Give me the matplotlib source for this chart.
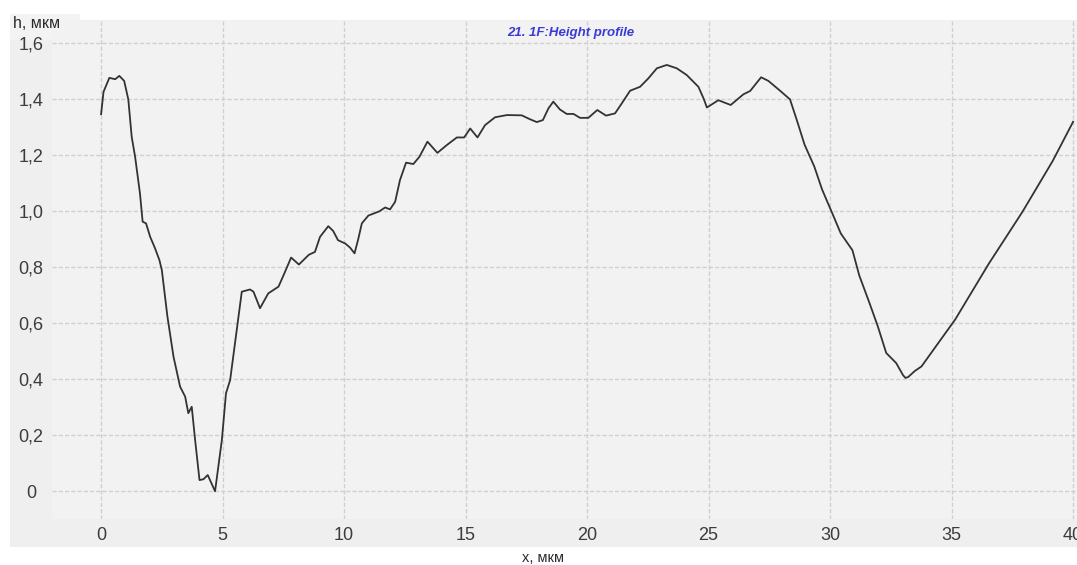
import matplotlib.pyplot as plt
from matplotlib.patches import Rectangle

# Height profile, x in um, h in um
x_um = [0.0, 0.1, 0.34, 0.58, 0.75, 0.95, 1.12, 1.26, 1.40, 1.60, 1.71, 1.85,
        2.02, 2.22, 2.40, 2.50, 2.73, 2.98, 3.25, 3.46, 3.59, 3.73, 3.87, 4.05,
        4.21, 4.39, 4.69, 4.97, 5.14, 5.31, 5.79, 6.13, 6.27, 6.54, 6.88, 7.30,
        7.50, 7.82, 8.14, 8.55, 8.80, 9.01, 9.35, 9.55, 9.75, 10.05, 10.25, 10.43,
        10.58, 10.73, 11.00, 11.45, 11.69, 11.89, 12.10, 12.30, 12.55, 12.85, 13.10,
        13.43, 13.84, 14.23, 14.64, 14.94, 15.19, 15.49, 15.80, 16.21, 16.70, 17.31,
        17.65, 17.93, 18.18, 18.41, 18.61, 18.88, 19.16, 19.44, 19.71, 20.05, 20.42,
        20.78, 21.15, 21.43, 21.77, 22.18, 22.52, 22.87, 23.28, 23.69, 24.10, 24.58,
        24.79, 24.93, 25.40, 25.91, 26.43, 26.71, 27.16, 27.46, 27.94, 28.35, 28.63,
        28.95, 29.35, 29.67, 30.09, 30.44, 30.92, 31.20, 31.61, 31.96, 32.31, 32.72,
        33.00, 33.10, 33.21, 33.49, 33.76, 35.15, 36.53, 37.92, 39.16, 40.0]
h_um = [1.347, 1.427, 1.477, 1.472, 1.484, 1.466, 1.400, 1.266, 1.195, 1.064, 0.963, 0.957,
        0.909, 0.868, 0.826, 0.790, 0.624, 0.481, 0.374, 0.338, 0.279, 0.302, 0.183, 0.040,
        0.043, 0.058, 0.000, 0.183, 0.350, 0.397, 0.713, 0.721, 0.713, 0.654, 0.707, 0.731,
        0.770, 0.835, 0.810, 0.845, 0.855, 0.909, 0.947, 0.930, 0.897, 0.885, 0.870, 0.850,
        0.900, 0.957, 0.985, 1.000, 1.014, 1.007, 1.034, 1.112, 1.174, 1.169, 1.195,
        1.249, 1.209, 1.237, 1.264, 1.264, 1.296, 1.264, 1.308, 1.336, 1.344, 1.343,
        1.329, 1.319, 1.326, 1.368, 1.392, 1.364, 1.348, 1.348, 1.334, 1.334, 1.362,
        1.342, 1.350, 1.386, 1.431, 1.445, 1.475, 1.511, 1.523, 1.511, 1.487, 1.445,
        1.404, 1.371, 1.397, 1.380, 1.418, 1.430, 1.479, 1.466, 1.431, 1.400, 1.326,
        1.238, 1.160, 1.078, 0.993, 0.921, 0.861, 0.771, 0.675, 0.590, 0.494, 0.458,
        0.415, 0.405, 0.408, 0.430, 0.446, 0.614, 0.813, 0.999, 1.180, 1.320]

x_ticks = [0, 5, 10, 15, 20, 25, 30, 35, 40]
y_ticks = [0, 0.2, 0.4, 0.6, 0.8, 1.0, 1.2, 1.4, 1.6]
y_tick_labels = ["0", "0,2", "0,4", "0,6", "0,8", "1,0", "1,2", "1,4", "1,6"]

plt.rcParams['font.family'] = ['Liberation Sans', 'DejaVu Sans']

W, H = 1077, 565
fig = plt.figure(figsize=(W / 100, H / 100), dpi=100, facecolor="white")

# grey panel behind the plot and tick labels
fig.patches.append(Rectangle((10 / W, 1 - 547 / H), (W - 10) / W, (547 - 20) / H,
                             transform=fig.transFigure, facecolor="#efefef",
                             edgecolor="none", zorder=-5))
fig.patches.append(Rectangle((10 / W, 1 - 40 / H), 70 / W, 26 / H,
                             transform=fig.transFigure, facecolor="#f3f3f3",
                             edgecolor="none", zorder=-5))

ax = fig.add_axes([52 / W, 1 - 519 / H, (W - 52) / W, (519 - 21) / H])
ax.set_facecolor("#f2f2f2")
ax.plot(x_um, h_um, color="#333333", linewidth=1.3, zorder=3)

ax.set_xlim(-2.02, 40.16)
ax.set_ylim(-0.099, 1.68)
ax.set_xticks(x_ticks)
ax.set_xticklabels([str(t) for t in x_ticks])
ax.set_yticks(y_ticks)
ax.set_yticklabels(y_tick_labels)
for lab in ax.get_yticklabels():
    lab.set_horizontalalignment("center")
ax.tick_params(axis="both", length=0, labelsize=13, labelcolor="#3c3c3c")
ax.tick_params(axis="y", pad=15)
ax.tick_params(axis="x", pad=6)
ax.grid(True, color="#cfcfcf", linestyle=(0, (3, 1.5)), linewidth=1.0)
for s in ax.spines.values():
    s.set_visible(False)

fig.text(571 / W, 1 - 33 / H, "21. 1F:Height profile", color="#3b3bd6",
         fontsize=9.5, fontweight="bold", fontstyle="italic", ha="center", va="center")
fig.text(13 / W, 1 - 23 / H, "h, мкм", color="#2a2a2a", fontsize=11.5,
         ha="left", va="center")
fig.text(543 / W, 1 - 558 / H, "x, мкм", color="#2a2a2a", fontsize=10.5,
         ha="center", va="center")

fig.savefig("out.png", dpi=100, facecolor="white")
